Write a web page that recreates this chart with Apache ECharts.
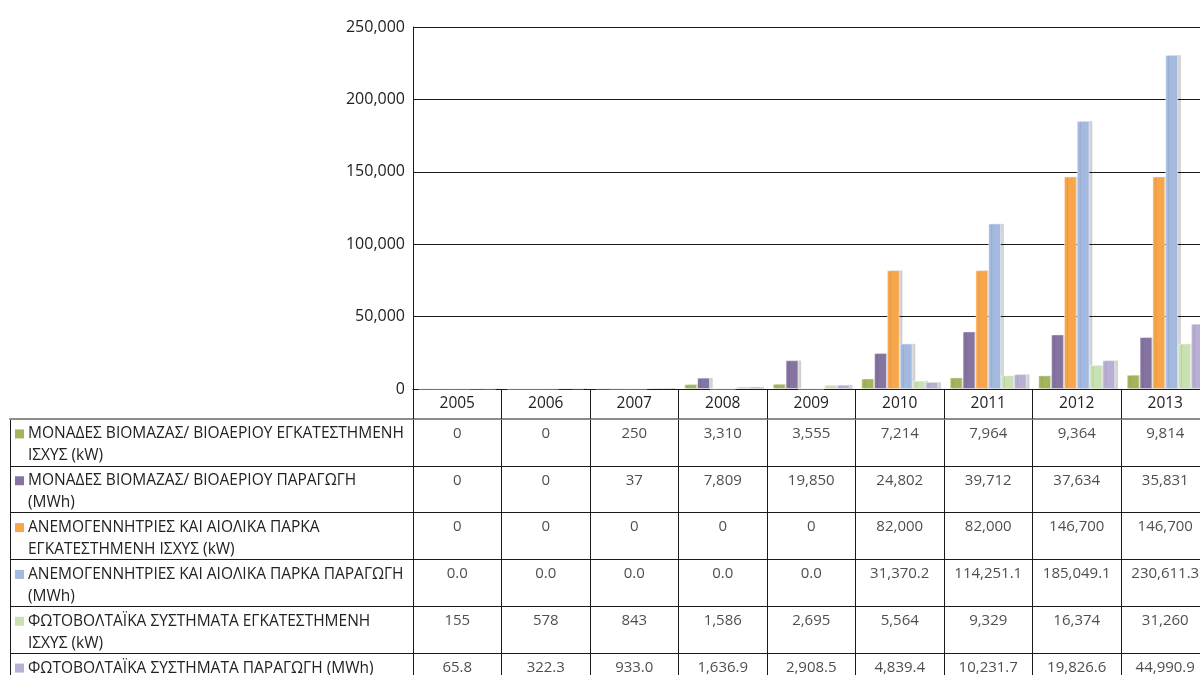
<!DOCTYPE html>
<html>
<head>
<meta charset="utf-8">
<script src="https://cdn.jsdelivr.net/npm/echarts@6/dist/echarts.min.js"></script>
<style>
  html, body { margin: 0; padding: 0; background: #fff; }
  #chart { width: 1200px; height: 675px; }
</style>
</head>
<body>
<div id="chart"></div>
<script>
const years = ['2005', '2006', '2007', '2008', '2009', '2010', '2011', '2012', '2013'];

const rowNames = [
  'ΜΟΝΑΔΕΣ ΒΙΟΜΑΖΑΣ/ ΒΙΟΑΕΡΙΟΥ ΕΓΚΑΤΕΣΤΗΜΕΝΗ\nΙΣΧΥΣ (kW)',
  'ΜΟΝΑΔΕΣ ΒΙΟΜΑΖΑΣ/ ΒΙΟΑΕΡΙΟΥ ΠΑΡΑΓΩΓΗ\n(MWh)',
  'ΑΝΕΜΟΓΕΝΝΗΤΡΙΕΣ ΚΑΙ ΑΙΟΛΙΚΑ ΠΑΡΚΑ\nΕΓΚΑΤΕΣΤΗΜΕΝΗ ΙΣΧΥΣ (kW)',
  'ΑΝΕΜΟΓΕΝΝΗΤΡΙΕΣ ΚΑΙ ΑΙΟΛΙΚΑ ΠΑΡΚΑ ΠΑΡΑΓΩΓΗ\n(MWh)',
  'ΦΩΤΟΒΟΛΤΑΪΚΑ ΣΥΣΤΗΜΑΤΑ ΕΓΚΑΤΕΣΤΗΜΕΝΗ\nΙΣΧΥΣ (kW)',
  'ΦΩΤΟΒΟΛΤΑΪΚΑ ΣΥΣΤΗΜΑΤΑ ΠΑΡΑΓΩΓΗ (MWh)'
];

const biomassKw = [0, 0, 250, 3310, 3555, 7214, 7964, 9364, 9814];
const biomassMwh = [0, 0, 37, 7809, 19850, 24802, 39712, 37634, 35831];
const windKw = [0, 0, 0, 0, 0, 82000, 82000, 146700, 146700];
const windMwh = [0.0, 0.0, 0.0, 0.0, 0.0, 31370.2, 114251.1, 185049.1, 230611.3];
const pvKw = [155, 578, 843, 1586, 2695, 5564, 9329, 16374, 31260];
const pvMwh = [65.8, 322.3, 933.0, 1636.9, 2908.5, 4839.4, 10231.7, 19826.6, 44990.9];

const yTicks = [0, 50000, 100000, 150000, 200000, 250000];

const rows = [biomassKw, biomassMwh, windKw, windMwh, pvKw, pvMwh];
const decimals = [0, 0, 0, 1, 0, 1];
const colors = ['#a2b55a', '#8573a0', '#f8a64b', '#a3b9df', '#c8e1b0', '#b9afd4'];

const FONT = 'Open Sans';
const LINE = '#1a1a1a';

function fmt(v, d) {
  return v.toLocaleString('en-US', { minimumFractionDigits: d, maximumFractionDigits: d });
}

// table cells: [year index, row index, value]
const cells = [];
rows.forEach((r, ri) => {
  r.forEach((v, yi) => cells.push([yi, ri, v]));
});

const labelRich = { t: { fontFamily: FONT, fontSize: 15.5, color: '#222', lineHeight: 22, padding: [0, 0, 0, 4] }, p: { width: 9 } };
colors.forEach((c, i) => {
  labelRich['s' + i] = { width: 9, height: 9, backgroundColor: c };
});

const chart = echarts.init(document.getElementById('chart'));

const barSeries = rows.map((r, i) => ({
  name: rowNames[i],
  type: 'bar',
  xAxisIndex: 0,
  yAxisIndex: 0,
  barGap: '0%',
  barCategoryGap: '13%',
  itemStyle: {
    color: colors[i],
    borderColor: 'rgba(255,255,255,0.45)',
    borderWidth: 1,
    shadowColor: 'rgba(0,0,0,0.17)',
    shadowBlur: 0,
    shadowOffsetX: 3,
    shadowOffsetY: 0
  },
  data: r
}));

const option = {
  animation: false,
  textStyle: { fontFamily: FONT },
  grid: [
    { left: 413, top: 27, width: 796.5, height: 362, outerBoundsMode: 'none' },
    { left: 413, top: 419, width: 796.5, height: 281, outerBoundsMode: 'none' },
    { left: 10, top: 419, width: 403, height: 281, outerBoundsMode: 'none' }
  ],
  xAxis: [
    {
      gridIndex: 0,
      type: 'category',
      data: years,
      axisLine: { show: true, lineStyle: { color: LINE, width: 1 } },
      axisTick: { show: true, length: 30, lineStyle: { color: LINE, width: 1 } },
      axisLabel: { fontSize: 15.5, color: '#222', margin: 7, fontFamily: FONT },
      splitLine: { show: false }
    },
    {
      gridIndex: 1,
      type: 'category',
      data: years,
      position: 'top',
      axisLine: { show: true, lineStyle: { color: '#8c8c8c', width: 2 } },
      axisTick: { show: false },
      axisLabel: { show: false },
      splitLine: { show: true, lineStyle: { color: LINE, width: 1 } }
    },
    {
      gridIndex: 2,
      type: 'value',
      min: 0,
      max: 1,
      position: 'top',
      axisLine: { show: true, lineStyle: { color: '#8c8c8c', width: 2 } },
      axisTick: { show: false },
      axisLabel: { show: false },
      splitLine: { show: false }
    }
  ],
  yAxis: [
    {
      gridIndex: 0,
      type: 'value',
      min: yTicks[0],
      max: yTicks[yTicks.length - 1],
      interval: yTicks[1] - yTicks[0],
      axisLine: { show: true, lineStyle: { color: LINE, width: 1 } },
      axisTick: { show: false },
      axisLabel: {
        fontSize: 16,
        color: '#222',
        margin: 8,
        fontFamily: FONT,
        formatter: v => fmt(v, 0)
      },
      splitLine: { show: true, lineStyle: { color: LINE, width: 1 } }
    },
    {
      gridIndex: 1,
      type: 'category',
      data: rowNames,
      inverse: true,
      axisLine: { show: true, lineStyle: { color: LINE, width: 1 } },
      axisTick: { show: false },
      axisLabel: { show: false },
      splitLine: { show: true, lineStyle: { color: LINE, width: 1 } }
    },
    {
      gridIndex: 2,
      type: 'category',
      data: rowNames,
      inverse: true,
      axisLine: { show: true, lineStyle: { color: LINE, width: 1 } },
      axisTick: { show: false },
      axisLabel: {
        inside: true,
        margin: 5,
        align: 'left',
        padding: [5, 0, 0, 0],
        rich: labelRich,
        formatter: (v, i) => {
          const parts = v.split('\n');
          return '{s' + i + '|}{t|' + parts[0] + '}\n{p|}{t|' + (parts[1] || ' ') + '}';
        }
      },
      splitLine: { show: true, lineStyle: { color: LINE, width: 1 } }
    }
  ],
  series: barSeries.concat([{
    type: 'scatter',
    xAxisIndex: 1,
    yAxisIndex: 1,
    symbolSize: 0,
    silent: true,
    label: {
      show: true,
      position: 'inside',
      offset: [0, -9],
      fontFamily: FONT,
      fontSize: 15,
      color: '#222',
      formatter: p => fmt(p.value[2], decimals[p.value[1]])
    },
    data: cells
  }])
};

chart.setOption(option);
</script>
</body>
</html>
